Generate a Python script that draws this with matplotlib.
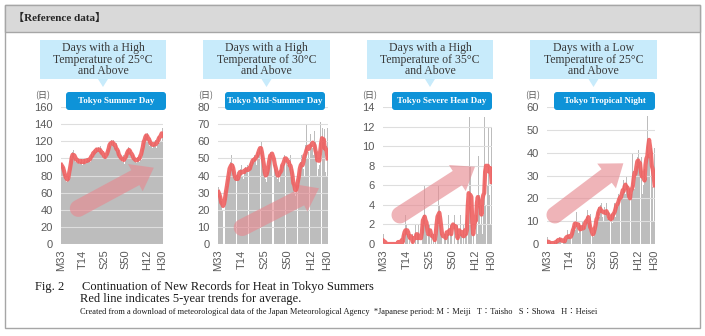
import matplotlib
matplotlib.use("Agg")
import matplotlib.pyplot as plt
import numpy as np
import pandas as pd
from matplotlib.patches import Rectangle, Polygon, FancyBboxPatch
from matplotlib.transforms import Affine2D, IdentityTransform

plt.rcParams['font.family'] = ['Liberation Sans', 'Noto Sans CJK JP']

# ---- data (days per year, Tokyo, 1900-2018) ----
years = np.arange(1900, 2019)
tick_years = [1900, 1925, 1950, 1975, 2000, 2018]
tick_labels = ['M33', 'T14', 'S25', 'S50', 'H12', 'H30']

summer_days = [
    95, 92, 90, 86, 82, 76, 72, 74, 78, 76,
    84, 103, 100, 108, 110, 100, 96, 104, 98, 95,
    99, 93, 96, 100, 97, 92, 96, 99, 94, 97,
    101, 95, 98, 100, 96, 105, 103, 108, 104, 110,
    107, 112, 110, 113, 109, 106, 114, 108, 104, 100,
    106, 103, 99, 100, 110, 112, 118, 115, 122, 119,
    116, 121, 114, 112, 118, 108, 104, 110, 102, 98,
    100, 96, 104, 98, 94, 99, 106, 110, 113, 108,
    108, 110, 104, 100, 104, 99, 96, 98, 95, 100,
    102, 96, 103, 98, 115, 112, 118, 124, 128, 126,
    130, 126, 121, 115, 122, 118, 112, 116, 114, 118,
    122, 112, 116, 126, 118, 137, 124, 120, 136,
]
midsummer_days = [
    33, 30, 28, 25, 20, 18, 26, 22, 31, 34,
    38, 42, 40, 48, 52, 44, 47, 38, 40, 36,
    34, 42, 38, 40, 44, 46, 40, 38, 43, 45,
    44, 46, 40, 42, 44, 48, 46, 50, 48, 52,
    50, 46, 54, 52, 56, 58, 54, 60, 52, 44,
    40, 38, 36, 42, 46, 50, 54, 52, 56, 48,
    54, 46, 44, 40, 38, 42, 36, 44, 46, 42,
    46, 52, 48, 54, 50, 46, 48, 44, 52, 40,
    44, 36, 30, 28, 34, 30, 36, 40, 44, 48,
    52, 46, 44, 40, 58, 70, 50, 54, 48, 62,
    64, 58, 56, 52, 66, 60, 54, 40, 44, 46,
    71, 42, 66, 68, 62, 67, 42, 40, 68,
]
severe_heat_days = [
    1, 0, 0, 0, 0, 0, 0, 0, 0, 0,
    0, 0, 0, 0, 0, 0, 0, 0, 1, 0,
    0, 0, 1, 0, 3, 2, 1, 0, 1, 2,
    0, 0, 1, 0, 0, 2, 0, 1, 2, 0,
    0, 1, 0, 2, 3, 6, 2, 1, 0, 2,
    2, 0, 1, 2, 0, 1, 0, 1, 0, 3,
    6, 4, 2, 1, 0, 2, 0, 1, 1, 0,
    1, 3, 0, 2, 1, 0, 2, 4, 3, 0,
    0, 2, 1, 0, 3, 1, 0, 2, 0, 1,
    1, 3, 0, 2, 13, 8, 2, 0, 1, 0,
    2, 6, 3, 1, 9, 5, 2, 4, 1, 3,
    13, 4, 5, 12, 6, 12, 5, 2, 12,
]
tropical_nights = [
    3, 0, 0, 1, 0, 1, 0, 0, 1, 0,
    2, 1, 1, 3, 2, 1, 3, 0, 1, 2,
    1, 2, 6, 4, 3, 2, 1, 5, 6, 8,
    10, 6, 14, 7, 5, 9, 8, 6, 4, 10,
    6, 8, 7, 12, 15, 9, 10, 13, 3, 2,
    5, 3, 8, 6, 10, 14, 16, 12, 17, 15,
    18, 12, 10, 16, 13, 18, 11, 14, 12, 10,
    10, 13, 9, 14, 18, 12, 17, 16, 22, 20,
    16, 24, 20, 22, 28, 24, 22, 30, 26, 22,
    24, 18, 14, 22, 40, 26, 24, 32, 34, 38,
    41, 36, 34, 28, 38, 22, 26, 33, 28, 30,
    56, 40, 38, 49, 45, 42, 25, 10, 42,
]

series = [summer_days, midsummer_days, severe_heat_days, tropical_nights]
titles = [
    'Days with a High\nTemperature of 25\u00b0C\nand Above',
    'Days with a High\nTemperature of 30\u00b0C\nand Above',
    'Days with a High\nTemperature of 35\u00b0C\nand Above',
    'Days with a Low\nTemperature of 25\u00b0C\nand Above',
]
badges = ['Tokyo Summer Day', 'Tokyo Mid-Summer Day',
          'Tokyo Severe Heat Day', 'Tokyo Tropical Night']
ymaxes = [160, 80, 14, 60]
ysteps = [20, 10, 2, 10]

# ---- layout, in pixels from the top-left corner ----
W, H = 705, 336
AX_TOP, AX_BOT = 107, 244
axes_x = [(61, 163), (218, 328), (383, 492), (547, 655)]
callout_x = [(40, 166), (203, 330), (367, 493), (530, 657)]
badge_x = [(66, 166), (225, 325), (392, 492), (554, 655)]
unit_x = [43, 206, 370, 533]
arrows = [((0.17, 0.26), (0.91, 0.557)),
          ((0.22, 0.12), (0.918, 0.407)),
          ((0.156, 0.212), (0.844, 0.564)),
          ((0.074, 0.212), (0.707, 0.589))]

SERIF = ['Liberation Serif', 'Noto Sans CJK JP']
BAR = '#bdbdbd'
RED = '#ef5f5f'
PINK = '#e68a91'
CALLOUT = '#c8ebfb'
BADGE = '#0e93d8'

fig = plt.figure(figsize=(W / 100, H / 100), dpi=100)
px = Affine2D().scale(1, -1).translate(0, H)


def add_arrow(ax, tail, tip, shaft=17, head_w=31, head_l=21):
    t = ax.transAxes.transform(tail)
    p = ax.transAxes.transform(tip)
    d = p - t
    u = d / np.hypot(*d)
    n = np.array([-u[1], u[0]])
    b = p - u * head_l
    pts = [b + n * shaft / 2, b + n * head_w / 2, p,
           b - n * head_w / 2, b - n * shaft / 2]
    # rounded tail
    for th in np.linspace(-np.pi / 2, np.pi / 2, 15):
        pts.append(t + shaft / 2 * (np.sin(th) * n - np.cos(th) * u))
    ax.add_patch(Polygon(pts, closed=True, transform=IdentityTransform(),
                         fc=PINK, ec='none', alpha=0.64, zorder=3,
                         clip_on=False))


# frame and header
fig.add_artist(Rectangle((5, 5), 695, 323, transform=px, fill=False,
                         ec='#a6a6a6', lw=1))
fig.add_artist(Rectangle((5, 5), 695, 27, transform=px, fc='#d9d9d9',
                         ec='#a6a6a6', lw=1))
fig.text(13, 18, '\u3010Reference data\u3011', transform=px, family=SERIF,
         weight='bold', size=8, va='center', color='#262626')

for i, vals in enumerate(series):
    l, r = axes_x[i]
    ax = fig.add_axes([l / W, (H - AX_BOT) / H, (r - l) / W,
                       (AX_BOT - AX_TOP) / H])
    ax.bar(years, vals, width=0.9, color=BAR, linewidth=0, zorder=1)
    trend = pd.Series(vals).rolling(5, center=True, min_periods=1).mean()
    ax.plot(years, trend, color=RED, lw=3.0, alpha=0.9, zorder=4)
    ax.set_xlim(1899.5, 2018.5)
    ax.set_ylim(0, ymaxes[i])
    ax.set_yticks(np.arange(0, ymaxes[i] + 1, ysteps[i]))
    ax.set_xticks(tick_years, tick_labels, rotation=90)
    ax.tick_params(length=0, labelsize=8, colors='#595959')
    ax.tick_params(axis='y', pad=5.8)
    ax.tick_params(axis='x', pad=4)
    for s in ax.spines.values():
        s.set_visible(False)
    ax.yaxis.grid(True, color='#dedede', lw=0.8)
    ax.set_axisbelow(False)
    ax.patch.set_alpha(0)
    add_arrow(ax, *arrows[i])

    # callout with pointer
    cl, cr = callout_x[i]
    cx = (cl + cr) / 2
    fig.add_artist(Rectangle((cl, 40), cr - cl, 39, transform=px,
                             fc=CALLOUT, ec='none'))
    fig.add_artist(Polygon([(cx - 5, 79), (cx + 5, 79), (cx, 87)],
                           transform=px, fc=CALLOUT, ec='none'))
    fig.text(cx, 59.5, titles[i], transform=px, ha='center', va='center',
             family=SERIF, size=8.5, color='#3a3a3a', linespacing=0.95)

    # blue badge
    bl, br = badge_x[i]
    fig.add_artist(FancyBboxPatch((bl, 92), br - bl, 18,
                                  boxstyle='round,pad=0,rounding_size=3',
                                  transform=px, fc=BADGE, ec='none'))
    fig.text((bl + br) / 2, 101, badges[i], transform=px, ha='center',
             va='center', family=SERIF, weight='bold', size=6.5,
             color='white')

    fig.text(unit_x[i], 96, '(日)', transform=px, ha='center', va='center',
             size=6.5, color='#595959', family=['Noto Sans CJK JP'])

# caption
fig.text(35, 287, 'Fig. 2', transform=px, family=SERIF, size=9,
         va='center', color='#1a1a1a')
fig.text(82, 287, 'Continuation of New Records for Heat in Tokyo Summers',
         transform=px, family=SERIF, size=9, va='center', color='#1a1a1a')
fig.text(80, 299, 'Red line indicates 5-year trends for average.',
         transform=px, family=SERIF, size=9, va='center', color='#1a1a1a')
fig.text(80, 312,
         'Created from a download of meteorological data of the Japan '
         'Meteorological Agency  *Japanese period: M\uff1aMeiji   '
         'T\uff1aTaisho   S\uff1aShowa   H\uff1aHeisei',
         transform=px, family=SERIF, size=6, va='center', color='#1a1a1a')

fig.savefig('out.png', dpi=100)
